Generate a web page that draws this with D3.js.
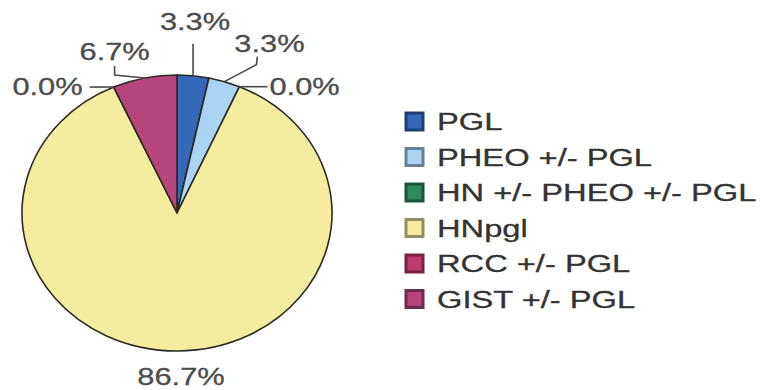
<!DOCTYPE html>
<html>
<head>
<meta charset="utf-8">
<script src="https://cdn.jsdelivr.net/npm/d3@7/dist/d3.min.js"></script>
<style>
  html, body { margin: 0; padding: 0; background: #ffffff; }
  svg { display: block; }
</style>
</head>
<body>
<svg id="chart" width="764" height="390"></svg>
<script>
// Categories and their shares (percent)
const categories = ["PGL", "PHEO +/- PGL", "HN +/- PHEO +/- PGL", "HNpgl", "RCC +/- PGL", "GIST +/- PGL"];
const values = [3.3, 3.3, 0.0, 86.7, 0.0, 6.7];
const valueLabels = ["3.3%", "3.3%", "0.0%", "86.7%", "0.0%", "6.7%"];
const sliceColors = ["#3568b8", "#a9d4f3", "#2e8b5e", "#f4ec9e", "#c23a6e", "#b5457a"];

// Geometry of the (slightly flattened) pie
const cx = 177, cy = 213, rx = 155, ry = 138;
const fontSize = 23;
const labelStretch = 1.34;
const legendStretch = 1.42;

// Leader-line bends and label offsets, relative to the slice's rim point
const leaderBends = [
  [[0, -32]],
  [[32, -17], [33, -25]],
  [[28, 0]],
  null,
  [[-24, 0]],
  [[-30, -3], [-30, -12]]
];
const labelOffsets = [
  { dx: 2, dy: -46, anchor: "middle" },
  { dx: 45, dy: -30, anchor: "middle" },
  { dx: 30, dy: 8, anchor: "start" },
  null,
  { dx: -31, dy: 8, anchor: "end" },
  { dx: -30, dy: -18, anchor: "middle" }
];

const svg = d3.select("#chart");
const data = categories.map((c, i) => ({ name: c, value: values[i], color: sliceColors[i], label: valueLabels[i] }));

const pie = d3.pie().sort(null).value(d => d.value);
const arcs = pie(data);
const arc = d3.arc().innerRadius(0).outerRadius(rx);

// Slices: drawn on a circle, then squashed vertically
const pieG = svg.append("g")
  .attr("transform", `translate(${cx},${cy}) scale(1,${ry / rx})`);

pieG.selectAll("path.slice")
  .data(arcs.filter(a => a.value > 0))
  .join("path")
  .attr("class", "slice")
  .attr("d", arc)
  .attr("fill", d => d.data.color)
  .attr("stroke", "#2b2a22")
  .attr("stroke-width", 1.6)
  .attr("stroke-linejoin", "round")
  .attr("vector-effect", "non-scaling-stroke");

// Rim point of a slice at its middle angle
function rimPoint(a) {
  const t = (a.startAngle + a.endAngle) / 2;
  return [cx + rx * Math.sin(t), cy - ry * Math.cos(t)];
}

const labelG = svg.append("g");

arcs.forEach((a, i) => {
  const [px, py] = rimPoint(a);
  if (leaderBends[i]) {
    const pts = [[px, py]].concat(leaderBends[i].map(([dx, dy]) => [px + dx, py + dy]));
    labelG.append("path")
      .attr("d", d3.line()(pts))
      .attr("fill", "none")
      .attr("stroke", "#4a4a4a")
      .attr("stroke-width", 1.6);
  }
  let lx, ly, anchor;
  if (labelOffsets[i]) {
    lx = px + labelOffsets[i].dx;
    ly = py + labelOffsets[i].dy;
    anchor = labelOffsets[i].anchor;
  } else {
    // largest slice: label centred below the pie
    lx = cx + 4;
    ly = cy + ry + 34;
    anchor = "middle";
  }
  labelG.append("text")
    .attr("transform", `translate(${lx},${ly}) scale(${labelStretch},1)`)
    .attr("text-anchor", anchor)
    .attr("font-family", "'Liberation Sans', Arial, sans-serif")
    .attr("font-size", fontSize)
    .attr("fill", "#4d4d4d")
    .attr("stroke", "#4d4d4d")
    .attr("stroke-width", 0.3)
    .text(a.data.label);
});

// Legend
const legendX = 406, legendY = 113, rowStep = 35.5, box = 17;
const legend = svg.append("g").attr("transform", `translate(${legendX},${legendY})`);
const rows = legend.selectAll("g.row")
  .data(data)
  .join("g")
  .attr("class", "row")
  .attr("transform", (d, i) => `translate(0,${i * rowStep})`);

rows.append("rect")
  .attr("width", box).attr("height", box)
  .attr("fill", d => d.color)
  .attr("stroke", d => d3.color(d.color).darker(1.4))
  .attr("stroke-width", 3);

rows.append("text")
  .attr("transform", `translate(${box + 14},${box}) scale(${legendStretch},1)`)
  .attr("font-family", "'Liberation Sans', Arial, sans-serif")
  .attr("font-size", fontSize)
  .attr("fill", "#333333")
  .attr("stroke", "#333333")
  .attr("stroke-width", 0.3)
  .text(d => d.name);
</script>
</body>
</html>
